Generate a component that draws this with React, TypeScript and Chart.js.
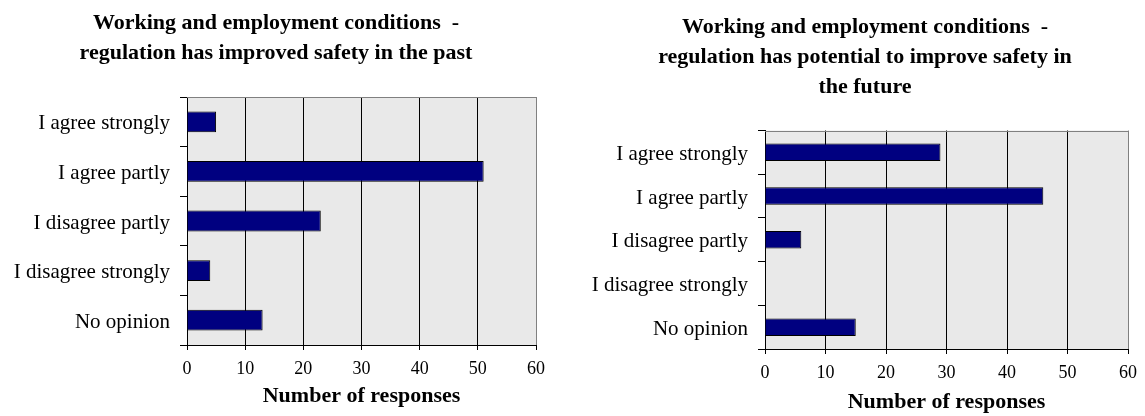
import React, { useEffect, useRef } from "react";
import { Chart, registerables } from "chart.js";

Chart.register(...registerables);

const categories = [
  "I agree strongly",
  "I agree partly",
  "I disagree partly",
  "I disagree strongly",
  "No opinion",
];
const pastValues = [5, 51, 23, 4, 13];
const futureValues = [29, 46, 6, 0, 15];
const xTicks = [0, 10, 20, 30, 40, 50, 60];
const pastTitle = [
  "Working and employment conditions  -",
  "regulation has improved safety in the past",
];
const futureTitle = [
  "Working and employment conditions  -",
  "regulation has potential to improve safety in",
  "the future",
];
const axisTitle = "Number of responses";

const FONT = "'Liberation Serif', 'Times New Roman', serif";

const plotFrame = {
  id: "plotFrame",
  beforeDraw(chart: any) {
    const { ctx, chartArea } = chart;
    ctx.save();
    ctx.fillStyle = "#E9E9E9";
    ctx.fillRect(chartArea.left, chartArea.top, chartArea.right - chartArea.left, chartArea.bottom - chartArea.top);
    ctx.restore();
  },
  beforeDatasetsDraw(chart: any) {
    const { ctx, chartArea } = chart;
    ctx.save();
    ctx.strokeStyle = "#808080";
    ctx.lineWidth = 1;
    const y = Math.round(chartArea.top) + 0.5;
    ctx.beginPath();
    ctx.moveTo(chartArea.left, y);
    ctx.lineTo(chartArea.right, y);
    ctx.stroke();
    ctx.restore();
  },
  afterDraw(chart: any, _args: any, opts: any) {
    if (!opts || !opts.lines) return;
    const { ctx } = chart;
    ctx.save();
    ctx.fillStyle = "#000";
    ctx.font = `bold ${opts.size}px ${FONT}`;
    ctx.textAlign = "center";
    ctx.textBaseline = "alphabetic";
    opts.lines.forEach((line: string, i: number) => {
      ctx.fillText(line, opts.centerX, opts.firstBaseline + i * opts.lineGap);
    });
    ctx.restore();
  },
};

type PanelProps = {
  left: number;
  width: number;
  title: string[];
  titleCenter: number;
  titleBaseline: number;
  titleGap: number;
  values: number[];
  pad: { left: number; right: number; top: number };
  yWidth: number;
  xHeight: number;
  barPct: number;
  axisTitlePad: number;
};

function Panel(p: PanelProps) {
  const ref = useRef<HTMLCanvasElement | null>(null);
  useEffect(() => {
    if (!ref.current) return;
    const chart = new Chart(ref.current, {
      type: "bar",
      data: {
        labels: categories,
        datasets: [
          {
            data: p.values,
            backgroundColor: "#000080",
            borderColor: "#000000",
            borderWidth: 1,
            barPercentage: p.barPct,
            categoryPercentage: 1,
          },
        ],
      },
      options: {
        indexAxis: "y",
        animation: false,
        responsive: false,
        layout: { padding: { left: p.pad.left, right: p.pad.right, top: p.pad.top, bottom: 0 } },
        plugins: {
          legend: { display: false },
          tooltip: { enabled: false },
          title: { display: false },
          plotFrame: {
            lines: p.title,
            size: 22,
            centerX: p.titleCenter,
            firstBaseline: p.titleBaseline,
            lineGap: p.titleGap,
          },
        },
        scales: {
          x: {
            type: "linear",
            min: xTicks[0],
            max: xTicks[xTicks.length - 1],
            ticks: {
              stepSize: xTicks[1] - xTicks[0],
              color: "#000",
              font: { family: FONT, size: 18 },
              padding: 8,
              maxRotation: 0,
            },
            grid: {
              color: (c: any) => (c.tick && c.tick.value === xTicks[xTicks.length - 1] ? "#808080" : "#000"),
              tickColor: "#000",
              tickLength: 5,
              lineWidth: 1,
            },
            border: { color: "#000", width: 1 },
            title: {
              display: true,
              text: axisTitle,
              color: "#000",
              font: { family: FONT, size: 22, weight: "bold", lineHeight: 1.2 },
              padding: { top: 0, bottom: p.axisTitlePad },
            },
            afterFit: (s: any) => {
              s.height = p.xHeight;
            },
          },
          y: {
            type: "category",
            offset: true,
            ticks: {
              color: "#000",
              font: { family: FONT, size: 21 },
              padding: 10,
              labelOffset: 2,
            },
            grid: {
              offset: true,
              drawOnChartArea: false,
              drawTicks: true,
              tickLength: 7,
              tickColor: "#000",
            },
            border: { color: "#000", width: 1 },
            afterFit: (s: any) => {
              s.width = p.yWidth;
            },
          },
        },
      },
      plugins: [plotFrame],
    } as any);
    return () => chart.destroy();
  }, []);
  return (
    <canvas
      ref={ref}
      width={p.width}
      height={416}
      style={{ position: "absolute", left: p.left, top: 0, width: p.width, height: 416 }}
    />
  );
}

export default function App() {
  return (
    <div style={{ position: "absolute", left: 0, top: 0, width: 1145, height: 416, background: "#fff", overflow: "hidden" }}>
      <Panel
        left={0}
        width={560}
        title={pastTitle}
        titleCenter={276}
        titleBaseline={28.5}
        titleGap={30}
        values={pastValues}
        pad={{ left: 0, right: 24, top: 97 }}
        yWidth={187}
        xHeight={71}
        barPct={0.42}
        axisTitlePad={6}
      />
      <Panel
        left={560}
        width={585}
        title={futureTitle}
        titleCenter={305}
        titleBaseline={32.5}
        titleGap={30.4}
        values={futureValues}
        pad={{ left: 0, right: 14, top: 130.5 }}
        yWidth={205}
        xHeight={67}
        barPct={0.4}
        axisTitlePad={0}
      />
    </div>
  );
}
